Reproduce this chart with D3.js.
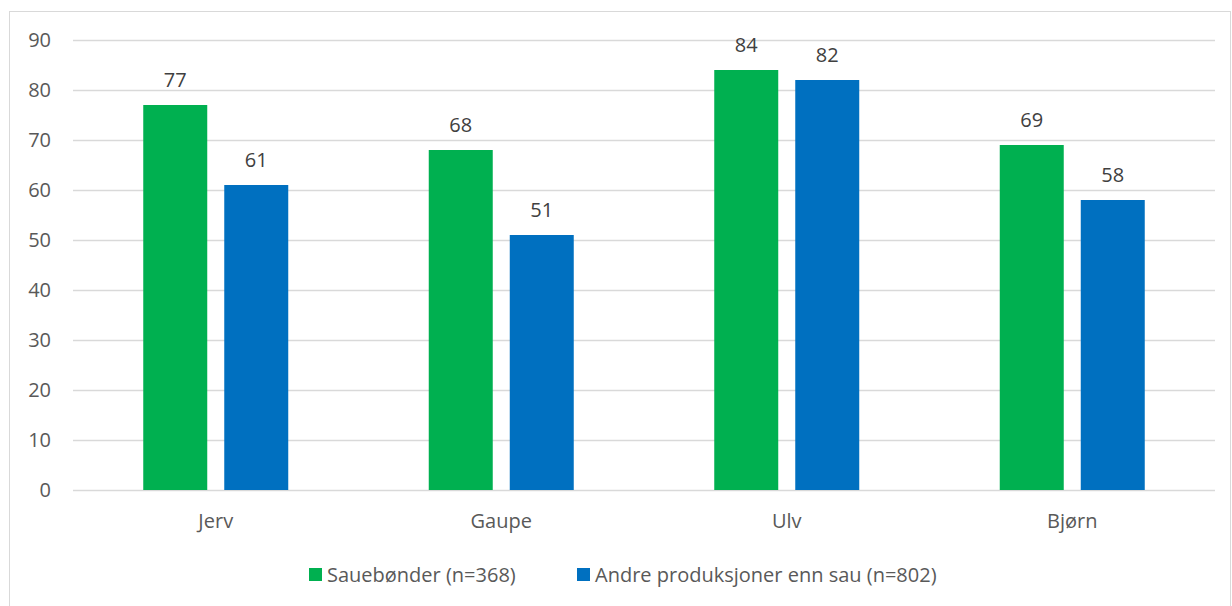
<html>
<head>
    <meta charset="utf-8">
    <script src="https://d3js.org/d3.v7.min.js"></script>
    <style>
        body { margin: 0; background: #fff; }
        text { font-family: "Open Sans", sans-serif; fill: #595959; }
        .gridlines line { stroke: #d9d9d9; stroke-width: 1.3; }
        .gridlines .domain { stroke: none; }
    </style>
</head>
<body>
<svg id="chart" width="1232" height="606"></svg>
<script>
    const categories = ["Jerv", "Gaupe", "Ulv", "Bjørn"];
    const seriesNames = ["Sauebønder (n=368)", "Andre produksjoner enn sau (n=802)"];
    const sauebonder = [77, 68, 84, 69];
    const andre = [61, 51, 82, 58];
    const yTicks = [0, 10, 20, 30, 40, 50, 60, 70, 80, 90];
    const colors = ["#00b050", "#0070c0"];

    const svg = d3.select("svg#chart");
    const margin = { top: 40, right: 17, bottom: 116, left: 73 };
    const width = +svg.attr("width");
    const height = +svg.attr("height");
    const chartWidth = width - margin.left - margin.right;
    const chartHeight = height - margin.top - margin.bottom;

    // outer frame
    svg.append("rect")
        .attr("x", 9.5).attr("y", 11.5)
        .attr("width", 1221).attr("height", 620)
        .attr("fill", "none").attr("stroke", "#d9d9d9");

    const g = svg.append("g").attr("transform", `translate(${margin.left},${margin.top})`);

    const x0 = d3.scaleBand().domain(categories).range([0, chartWidth]);
    const groupW = 145;
    const x1 = d3.scaleBand().domain(seriesNames).range([0, groupW]).paddingInner(0.21);
    const y = d3.scaleLinear().domain([0, 90]).range([chartHeight, 0]);

    g.append("g").attr("class", "gridlines")
        .call(d3.axisLeft(y).tickValues(yTicks).tickSize(-chartWidth).tickFormat(""));

    g.append("g").selectAll("text").data(yTicks).join("text")
        .attr("x", -22).attr("y", d => y(d))
        .attr("dy", "0.35em").attr("text-anchor", "end")
        .attr("font-size", 20)
        .text(d => d);

    const rows = categories.map((c, i) => ({ cat: c, vals: [sauebonder[i], andre[i]] }));

    const groups = g.selectAll("g.cat").data(rows).join("g")
        .attr("class", "cat")
        .attr("transform", d => `translate(${x0(d.cat) + (x0.bandwidth() - groupW) / 2},0)`);

    groups.selectAll("rect").data(d => d.vals.map((v, j) => ({ s: seriesNames[j], v, j })))
        .join("rect")
        .attr("x", d => x1(d.s))
        .attr("y", d => y(d.v))
        .attr("width", x1.bandwidth())
        .attr("height", d => chartHeight - y(d.v))
        .attr("fill", d => colors[d.j]);

    groups.selectAll("text").data(d => d.vals.map((v, j) => ({ s: seriesNames[j], v, j })))
        .join("text")
        .attr("x", d => x1(d.s) + x1.bandwidth() / 2)
        .attr("y", d => y(d.v) - 18)
        .attr("text-anchor", "middle")
        .attr("font-size", 20)
        .style("fill", "#404040")
        .text(d => d.v);

    g.append("g").selectAll("text").data(categories).join("text")
        .attr("x", d => x0(d) + x0.bandwidth() / 2)
        .attr("y", chartHeight + 38)
        .attr("text-anchor", "middle")
        .attr("font-size", 20)
        .text(d => d);

    // legend
    const legendX = [309, 577];
    const legend = svg.append("g").selectAll("g").data(seriesNames).join("g")
        .attr("transform", (d, i) => `translate(${legendX[i]},568)`);
    legend.append("rect").attr("width", 13).attr("height", 13)
        .attr("fill", (d, i) => colors[i]);
    legend.append("text").attr("x", 18).attr("y", 6.5).attr("dy", "0.35em")
        .attr("font-size", 20)
        .text(d => d);
</script>
</body>
</html>
